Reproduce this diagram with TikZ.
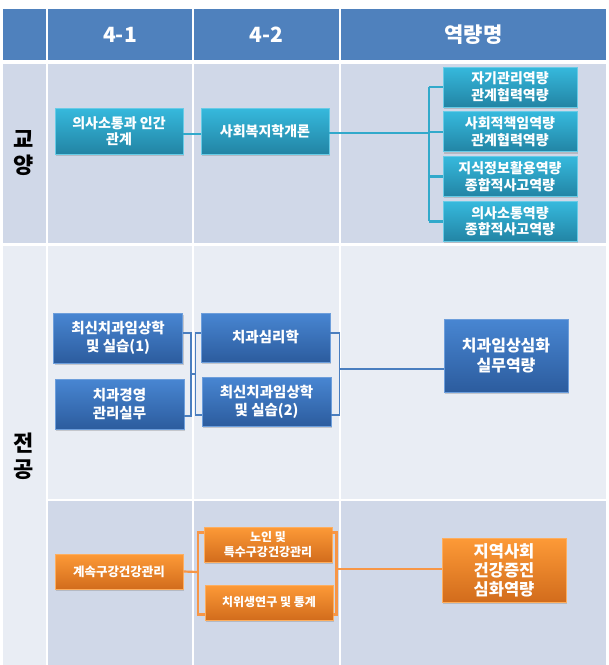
\documentclass[tikz,border=0pt]{standalone}
\usepackage{fontspec}
\setmainfont{Noto Sans CJK KR}
\usetikzlibrary{positioning, shadows}

\definecolor{hdrblue}{HTML}{4F81BD}
\definecolor{banddark}{HTML}{D0D8E8}
\definecolor{bandlight}{HTML}{E9EDF4}
\definecolor{skytop}{HTML}{36B9DD}
\definecolor{skybot}{HTML}{2284A4}
\definecolor{skywire}{HTML}{31A9CB}
\definecolor{navytop}{HTML}{4886D2}
\definecolor{navybot}{HTML}{2C5C9E}
\definecolor{navywire}{HTML}{4A7EBF}
\definecolor{ambertop}{HTML}{FD9A37}
\definecolor{amberbot}{HTML}{D26C1C}
\definecolor{amberwire}{HTML}{F79646}

\begin{document}
\begin{tikzpicture}[x=1pt, y=-1pt,
  every node/.style={font=\bfseries, align=center, inner sep=0pt},
  hcell/.style ={rectangle, fill=hdrblue, text=white,
                 font=\bfseries\fontsize{21}{24}\selectfont, minimum height=51pt},
  side/.style  ={font=\bfseries\fontsize{22}{26}\selectfont},
  card/.style  ={rectangle, line width=0.8pt, text=white,
                 drop shadow={shadow xshift=1.2pt, shadow yshift=-1.8pt, opacity=0.35}},
  sky/.style   ={card, draw=skytop!75!white, top color=skytop, bottom color=skybot,
                 font=\bfseries\fontsize{14}{16.5}\selectfont},
  navy/.style  ={card, draw=navytop!80!white, top color=navytop, bottom color=navybot,
                 font=\bfseries\fontsize{14.5}{18}\selectfont},
  amber/.style ={card, draw=ambertop!80!white, top color=ambertop, bottom color=amberbot,
                 font=\bfseries\fontsize{12}{15}\selectfont},
  skywire/.style  ={draw=skywire, line width=2.6pt},
  navywire/.style ={draw=navywire, line width=1.7pt},
  amberwire/.style={draw=amberwire, line width=2.2pt},
]
\useasboundingbox (0,0) rectangle (609,665);

% Bands
\fill[banddark]  (3,64)    rectangle (46,243);
\fill[banddark]  (48,64)   rectangle (192,243);
\fill[banddark]  (194,64)  rectangle (339,243);
\fill[banddark]  (341,64)  rectangle (606,243);
\fill[bandlight] (3,246)   rectangle (46,665);
\fill[bandlight] (48,246)  rectangle (192,499);
\fill[bandlight] (194,246) rectangle (339,499);
\fill[bandlight] (341,246) rectangle (606,499);
\fill[banddark]  (48,501)  rectangle (192,665);
\fill[banddark]  (194,501) rectangle (339,665);
\fill[banddark]  (341,501) rectangle (606,665);

% Header
\node[hcell, minimum width=43pt]  (h0) at (24.5,34.5)  {};
\node[hcell, minimum width=144pt] (h1) at (120,34.5)   {4-1};
\node[hcell, minimum width=145pt] (h2) at (266.5,34.5) {4-2};
\node[hcell, minimum width=265pt] (h3) at (473.5,34.5) {역량명};

% Row labels
\node[side] (gy) at (24,153) {교\\양};
\node[side] (jg) at (24,456) {전\\공};

% 교양
\node[sky, minimum width=128pt, minimum height=46pt] (c41) at (119,131) {의사소통과 인간\\관계};
\node[sky, minimum width=128pt, minimum height=46pt] (c42) at (265,131) {사회복지학개론};
\node[sky, minimum width=134pt, minimum height=40pt] (r1) at (510,87) {자기관리역량\\관계협력역량};
\node[sky, minimum width=134pt, minimum height=40pt, below=4pt of r1] (r2) {사회적책임역량\\관계협력역량};
\node[sky, minimum width=134pt, minimum height=40pt, below=4pt of r2] (r3) {지식정보활용역량\\종합적사고역량};
\node[sky, minimum width=134pt, minimum height=40pt, below=4pt of r3] (r4) {의사소통역량\\종합적사고역량};

% 전공 (clinical)
\node[navy, minimum width=129pt, minimum height=50pt] (a1) at (118,338)   {최신치과임상학\\및 실습(1)};
\node[navy, minimum width=129pt, minimum height=50pt] (a2) at (119.5,404) {치과경영\\관리실무};
\node[navy, minimum width=129pt, minimum height=49pt] (b1) at (265.5,337.5) {치과심리학};
\node[navy, minimum width=129pt, minimum height=49pt] (b2) at (266.5,401.5) {최신치과임상학\\및 실습(2)};
\node[navy, minimum width=124pt, minimum height=73pt,
      font=\bfseries\fontsize{16}{20}\selectfont] (cc) at (506,355.5) {치과임상심화\\실무역량};

% 전공 (community)
\node[amber, minimum width=128pt, minimum height=35pt,
      font=\bfseries\fontsize{12.5}{15}\selectfont] (d) at (119,571.5) {계속구강건강관리};
\node[amber, minimum width=128pt, minimum height=35pt] (e1) at (268,544.5) {노인 및\\특수구강건강관리};
\node[amber, minimum width=128pt, minimum height=35pt] (e2) at (269,602.5) {치위생연구 및 통계};
\node[amber, minimum width=124pt, minimum height=64pt,
      font=\bfseries\fontsize{16.5}{19}\selectfont] (f) at (504,570) {지역사회\\건강증진\\심화역량};

% Wires - 교양
\coordinate (sj) at (429,133);
\draw[skywire] ([yshift=-3pt]c41.east) -- ([yshift=-3pt]c42.west);
\draw[skywire] (c42.east |- sj) -- (sj);
\draw[skywire] (sj |- r1.west) -- (sj |- r4.west);
\foreach \r in {r1,r2,r3,r4}
  \draw[skywire] (sj |- \r.west) -- (\r.west);

% Wires - clinical
\coordinate (aj) at (190.5,374);
\coordinate (bj) at (196,374);
\coordinate (cj) at (339,369);
\draw[navywire] ([yshift=5pt]a1.east) -- ++(8,0) |- ([yshift=-12pt]a2.east);
\draw[navywire] ([yshift=4.5pt]b1.west) -- ++(-5,0) |- ([yshift=-13.5pt]b2.west);
\draw[navywire] ([yshift=4.5pt]b1.east) -- ++(9,0) |- ([yshift=-13.5pt]b2.east);
\draw[navywire] (aj) -- (bj);
\draw[navywire] (cj) -- (cj -| cc.west);

% Wires - community
\coordinate (dj) at (198,572);
\coordinate (fj) at (336,569);
\draw[amberwire] (d.east) -- (dj);
\draw[amberwire] ([yshift=12pt]e1.west) -- ++(-6,0) |- ([yshift=-12pt]e2.west);
\draw[amberwire] ([yshift=12pt]e1.east) -- ++(4,0) |- ([yshift=-12pt]e2.east);
\draw[amberwire] (fj) -- (fj -| f.west);

\end{tikzpicture}
\end{document}
